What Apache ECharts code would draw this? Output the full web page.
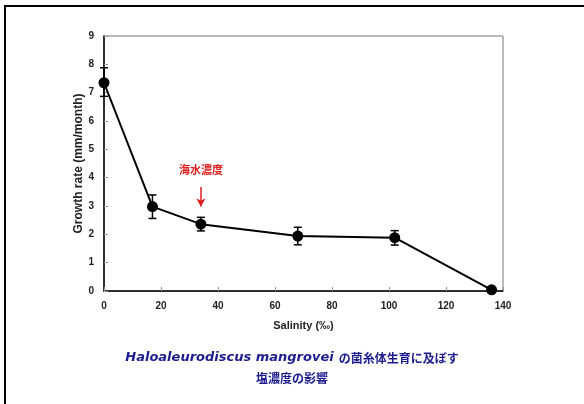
<!DOCTYPE html>
<html style="height: 100%">
<head>
	<meta charset="utf-8">
</head>
<body style="height: 100%; margin: 0; background: #fff">
<div id="container" style="width: 584px; height: 404px"></div>
<script type="text/javascript" src="https://cdn.jsdelivr.net/npm/echarts@6/dist/echarts.min.js"></script>
<script type="text/javascript">
    // salinity (per mille) vs growth rate
    var salinity = [0, 17, 34, 68, 102, 136];
    var growth = [7.35, 2.98, 2.36, 1.94, 1.88, 0.04];
    var errLow = [6.87, 2.56, 2.12, 1.63, 1.62, 0.04];
    var errHigh = [7.88, 3.39, 2.6, 2.25, 2.13, 0.04];
    var xTicks = [0, 20, 40, 60, 80, 100, 120, 140];
    var yTicks = [0, 1, 2, 3, 4, 5, 6, 7, 8, 9];

    var dom = document.getElementById("container");
    var myChart = echarts.init(dom);

    var lineData = [];
    var errData = [];
    for (var i = 0; i < salinity.length; i++) {
        lineData.push([salinity[i], growth[i]]);
        errData.push([salinity[i], errLow[i], errHigh[i]]);
    }

    var axisFont = {
        color: '#222',
        fontFamily: 'Liberation Sans',
        fontWeight: 'bold',
        fontSize: 10
    };

    var option = {
        backgroundColor: '#fff',
        animation: false,
        graphic: [{
            type: 'rect',
            shape: {x: 5, y: 6, width: 700, height: 500},
            style: {fill: 'none', stroke: '#000', lineWidth: 2}
        }],
        title: {
            left: 'center',
            top: 343,
            text: '{i|Haloaleurodiscus mangrovei} {j|の菌糸体生育に及ぼす}\n{j|塩濃度の影響}',
            textStyle: {
                align: 'center',
                rich: {
                    i: {
                        fontFamily: 'DejaVu Sans',
                        fontStyle: 'italic',
                        fontWeight: 'bold',
                        fontSize: 13,
                        color: '#1c1c8e',
                        lineHeight: 20,
                        align: 'center'
                    },
                    j: {
                        fontFamily: 'Noto Sans CJK JP',
                        fontWeight: 'bold',
                        fontSize: 12,
                        color: '#1c1c8e',
                        lineHeight: 20,
                        align: 'center'
                    }
                }
            }
        },
        grid: {
            left: 104,
            right: 81,
            top: 36,
            bottom: 113,
            show: true,
            borderColor: '#777',
            borderWidth: 1
        },
        xAxis: {
            type: 'value',
            min: 0,
            max: 140,
            interval: 20,
            name: 'Salinity (‰)',
            nameLocation: 'middle',
            nameGap: 29,
            nameMoveOverlap: false,
            nameTextStyle: {
                color: '#222',
                fontFamily: 'Liberation Sans',
                fontWeight: 'bold',
                fontSize: 11
            },
            axisLine: {lineStyle: {color: '#000', width: 1.5}},
            axisTick: {inside: true, length: 4, lineStyle: {color: '#999'}},
            axisLabel: Object.assign({
                margin: 10,
                formatter: function (v) {
                    return xTicks.indexOf(v) >= 0 ? v : '';
                }
            }, axisFont),
            splitLine: {show: false}
        },
        yAxis: {
            type: 'value',
            min: 0,
            max: 9,
            interval: 1,
            name: 'Growth rate (mm/month)',
            nameLocation: 'middle',
            nameGap: 19,
            nameMoveOverlap: false,
            nameTextStyle: {
                color: '#222',
                fontFamily: 'Liberation Sans',
                fontWeight: 'bold',
                fontSize: 12
            },
            axisLine: {lineStyle: {color: '#000', width: 1.5}},
            axisTick: {inside: true, length: 4, lineStyle: {color: '#999'}},
            axisLabel: Object.assign({
                margin: 10,
                formatter: function (v) {
                    return yTicks.indexOf(v) >= 0 ? v : '';
                }
            }, axisFont),
            splitLine: {show: false}
        },
        series: [
            {
                name: 'error',
                type: 'custom',
                data: errData,
                z: 3,
                renderItem: function (params, api) {
                    var x = api.value(0);
                    var lo = api.coord([x, api.value(1)]);
                    var hi = api.coord([x, api.value(2)]);
                    var w = 4;
                    var st = {stroke: '#000', lineWidth: 1.5};
                    return {
                        type: 'group',
                        children: [
                            {type: 'line', shape: {x1: lo[0], y1: lo[1], x2: hi[0], y2: hi[1]}, style: st},
                            {type: 'line', shape: {x1: lo[0] - w, y1: lo[1], x2: lo[0] + w, y2: lo[1]}, style: st},
                            {type: 'line', shape: {x1: hi[0] - w, y1: hi[1], x2: hi[0] + w, y2: hi[1]}, style: st}
                        ]
                    };
                }
            },
            {
                name: 'growth',
                type: 'line',
                data: lineData,
                z: 4,
                symbol: 'circle',
                symbolSize: 11,
                lineStyle: {color: '#000', width: 2},
                itemStyle: {color: '#000'},
                markPoint: {
                    symbol: 'circle',
                    symbolSize: 1,
                    silent: true,
                    itemStyle: {color: 'rgba(0,0,0,0)'},
                    label: {
                        show: true,
                        position: 'inside',
                        formatter: '海水濃度',
                        color: '#e02020',
                        fontFamily: 'Noto Sans CJK JP',
                        fontWeight: 'bold',
                        fontSize: 11
                    },
                    data: [{coord: [34, 4.27], value: 0}]
                },
                markLine: {
                    silent: true,
                    symbol: ['none', 'arrow'],
                    symbolSize: [7, 8],
                    label: {show: false},
                    lineStyle: {color: '#e02020', width: 1.5, type: 'solid'},
                    data: [[{coord: [34, 3.67]}, {coord: [34, 2.98]}]]
                }
            }
        ]
    };

    myChart.setOption(option);
</script>
</body>
</html>
